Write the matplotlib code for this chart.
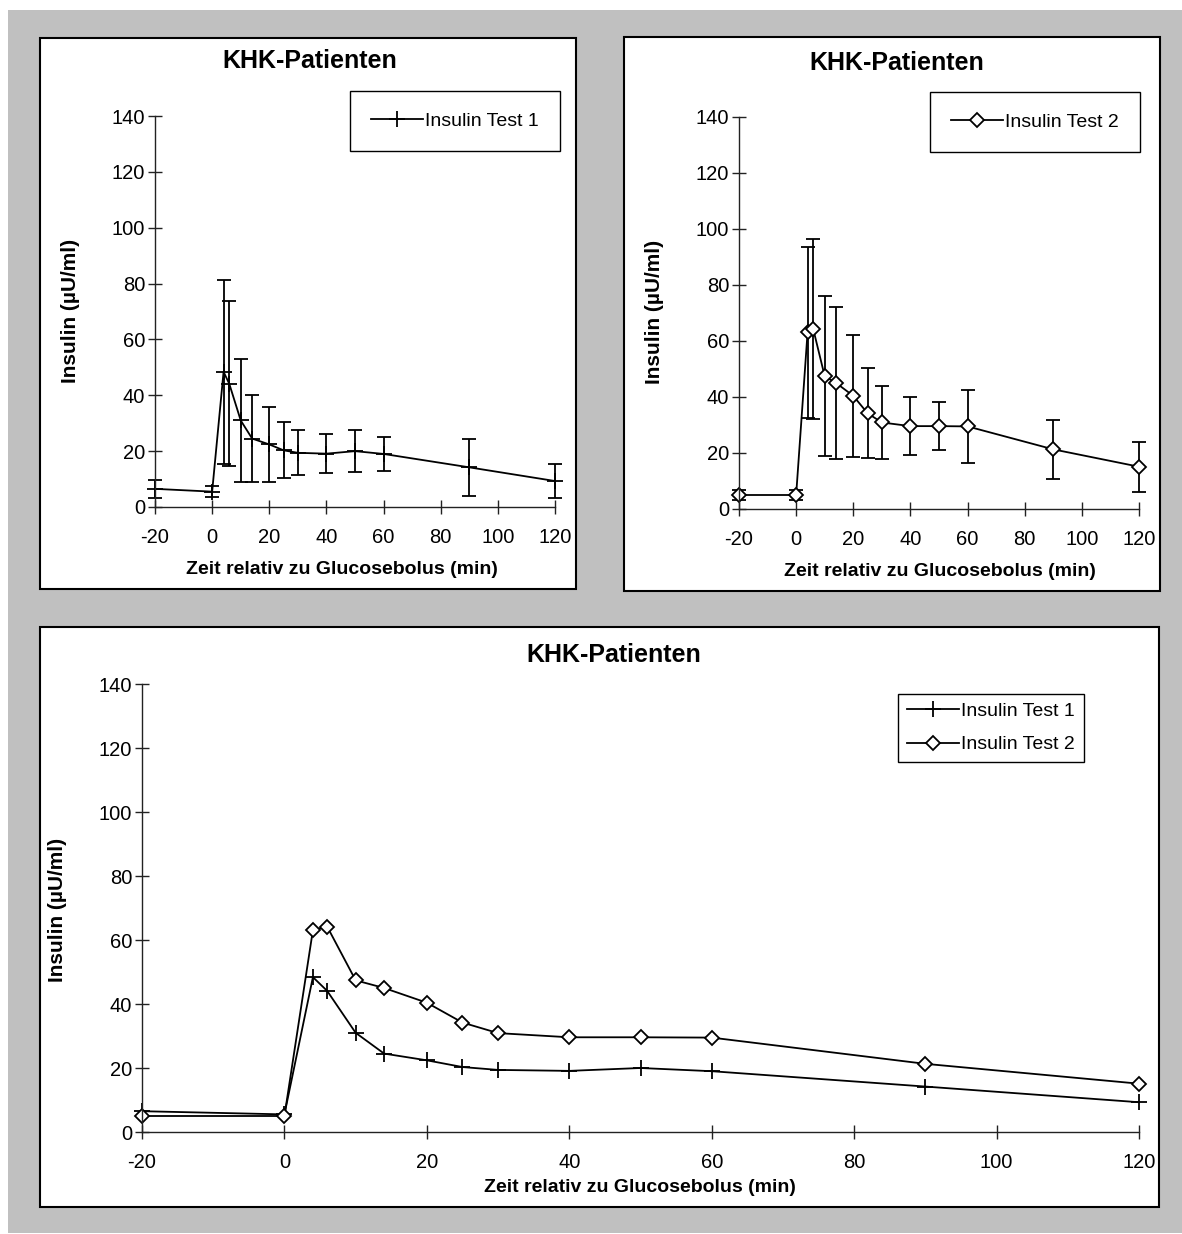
import numpy as np
import matplotlib
matplotlib.use("Agg")
import matplotlib.pyplot as plt
from matplotlib.patches import Rectangle

# data
zeit = [-20, 0, 4, 6, 10, 14, 20, 25, 30, 40, 50, 60, 90, 120]
insulin_test1 = [6.5, 5.5, 48.4, 44.1, 31.0, 24.5, 22.4, 20.3, 19.4, 19.1, 20.0, 19.0, 14.2, 9.3]
sd_test1 = [3.1, 2.0, 33.0, 29.5, 22.0, 15.6, 13.3, 10.0, 8.1, 7.1, 7.4, 6.0, 10.2, 6.0]
insulin_test2 = [5.0, 5.0, 63.1, 64.2, 47.4, 45.0, 40.4, 34.2, 30.9, 29.6, 29.6, 29.5, 21.3, 15.1]
sd_test2 = [1.8, 1.8, 30.6, 32.2, 28.6, 27.1, 21.8, 16.0, 13.2, 10.3, 8.5, 12.9, 10.5, 8.9]
x_ticks = [-20, 0, 20, 40, 60, 80, 100, 120]
y_ticks = [0, 20, 40, 60, 80, 100, 120, 140]

titel = "KHK-Patienten"
x_label = "Zeit relativ zu Glucosebolus (min)"
y_label = "Insulin (µU/ml)"
label1 = "Insulin Test 1"
label2 = "Insulin Test 2"

W, H = 1182, 1234
plt.rcParams['font.family'] = ['Liberation Sans', 'DejaVu Sans']
plt.rcParams['axes.unicode_minus'] = False

fig = plt.figure(figsize=(W / 100, H / 100), dpi=100, facecolor="white")


def fx(px):
    return px / W


def fy(py):
    return 1 - py / H


def box(x0, y0, x1, y1, **kw):
    # rectangle in pixel coords (top-left origin)
    fig.patches.append(Rectangle((fx(x0), fy(y1)), fx(x1) - fx(x0), fy(y0) - fy(y1),
                                 transform=fig.transFigure, **kw))


def make_axes(left, top, right, bottom):
    ax = fig.add_axes([fx(left), fy(bottom), fx(right) - fx(left), fy(top) - fy(bottom)])
    ax.set_facecolor("none")
    ax.set_zorder(2)
    ax.set_xlim(-20, 120)
    ax.set_ylim(0, 140)
    ax.set_xticks(x_ticks)
    ax.set_yticks(y_ticks)
    for s in ["top", "right"]:
        ax.spines[s].set_visible(False)
    for s in ["left", "bottom"]:
        ax.spines[s].set_linewidth(1.0)
        ax.spines[s].set_color("#222222")
    ax.tick_params(axis="both", direction="inout", length=10, width=1.0,
                   color="#222222", labelsize=14.5)
    ax.tick_params(axis="x", pad=10)
    ax.tick_params(axis="y", pad=2)
    return ax


line_kw = dict(color="black", lw=1.3, clip_on=False)
err_kw = dict(fmt="none", ecolor="black", elinewidth=1.3, capsize=5, capthick=1.3, clip_on=False)
plus_kw = dict(marker="+", markersize=11, markeredgewidth=1.3)
diam_kw = dict(marker="D", markersize=7, markerfacecolor="white", markeredgecolor="black",
               markeredgewidth=1.3)

# gray background and white chart panels
box(8, 10, W, 1233, facecolor="#c0c0c0", edgecolor="none", zorder=-2)
box(40, 38, 576, 589, facecolor="white", edgecolor="black", lw=1.5, zorder=-1)
box(624, 37, 1160, 591, facecolor="white", edgecolor="black", lw=1.5, zorder=-1)
box(40, 627, 1159, 1207, facecolor="white", edgecolor="black", lw=1.5, zorder=-1)

# top left: test 1 with sd
ax1 = make_axes(155, 116, 555, 507)
ax1.errorbar(zeit, insulin_test1, yerr=sd_test1, **err_kw)
ax1.plot(zeit, insulin_test1, label=label1, **line_kw, **plus_kw)
leg1 = ax1.legend(loc="center", bbox_to_anchor=(fx(455), fy(121)), bbox_transform=fig.transFigure,
                  fontsize=14, fancybox=False, edgecolor="black", borderpad=1.1,
                  handlelength=2.7, handletextpad=0.1, framealpha=1)
leg1.get_frame().set_linewidth(1.0)
fig.text(fx(310), fy(61), titel, fontsize=18, fontweight="bold", ha="center", va="center")
fig.text(fx(342), fy(570), x_label, fontsize=14, fontweight="bold", ha="center", va="center")
fig.text(fx(70), fy(311), y_label, fontsize=15, fontweight="bold", ha="center", va="center",
         rotation=90)

# top right: test 2 with sd
ax2 = make_axes(739, 117, 1139, 509)
ax2.errorbar(zeit, insulin_test2, yerr=sd_test2, **err_kw)
ax2.plot(zeit, insulin_test2, label=label2, **line_kw, **diam_kw)
leg2 = ax2.legend(loc="center", bbox_to_anchor=(fx(1035), fy(122)), bbox_transform=fig.transFigure,
                  fontsize=14, fancybox=False, edgecolor="black", borderpad=1.1,
                  handlelength=2.7, handletextpad=0.1, framealpha=1)
leg2.get_frame().set_linewidth(1.0)
fig.text(fx(897), fy(63), titel, fontsize=18, fontweight="bold", ha="center", va="center")
fig.text(fx(940), fy(572), x_label, fontsize=14, fontweight="bold", ha="center", va="center")
fig.text(fx(654), fy(312), y_label, fontsize=15, fontweight="bold", ha="center", va="center",
         rotation=90)

# bottom: both tests, no sd
ax3 = make_axes(142, 684, 1139, 1132)
ax3.plot(zeit, insulin_test1, label=label1, **line_kw, **plus_kw)
ax3.plot(zeit, insulin_test2, label=label2, **line_kw, **diam_kw)
leg3 = ax3.legend(loc="center", bbox_to_anchor=(fx(991), fy(728)), bbox_transform=fig.transFigure,
                  fontsize=14, fancybox=False, edgecolor="black", borderpad=0.45,
                  labelspacing=0.8, handlelength=2.7, handletextpad=0.1, framealpha=1)
leg3.get_frame().set_linewidth(1.0)
fig.text(fx(614), fy(655), titel, fontsize=18, fontweight="bold", ha="center", va="center")
fig.text(fx(640), fy(1187), x_label, fontsize=14, fontweight="bold", ha="center", va="center")
fig.text(fx(58), fy(910), y_label, fontsize=15, fontweight="bold", ha="center", va="center",
         rotation=90)

fig.savefig("out.png", dpi=100, facecolor="white")
